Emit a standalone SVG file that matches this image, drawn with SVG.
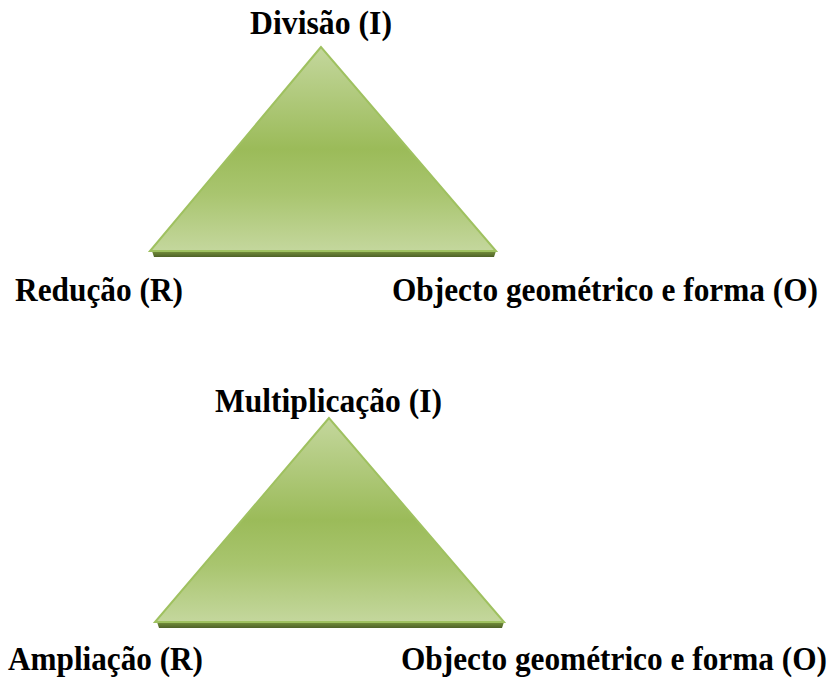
<svg xmlns="http://www.w3.org/2000/svg" width="833" height="679" viewBox="0 0 833 679" font-family="'Liberation Serif', 'DejaVu Serif', serif">
<defs>
<linearGradient id="fillG" x1="0" y1="0" x2="0" y2="1">
<stop offset="0" stop-color="#c4d79d"/>
<stop offset="0.5" stop-color="#9bbb59"/>
<stop offset="0.72" stop-color="#a9c56f"/>
<stop offset="1" stop-color="#c4d79d"/>
</linearGradient>
<linearGradient id="shadowG" x1="0" y1="0" x2="0" y2="1">
<stop offset="0" stop-color="#76923c"/>
<stop offset="1" stop-color="#4f6228"/>
</linearGradient>
<style>
.tri{fill:url(#fillG);stroke:#9fc160;stroke-width:2;stroke-linejoin:miter}
.sh{fill:url(#shadowG)}
.lbl{font-family:'Liberation Serif','DejaVu Serif',serif;font-weight:700;font-size:31px;fill:#000}
</style>
</defs>
<g id="triangle1">
<polygon class="sh" points="152,251 496,251 494,257 154,257"/>
<polygon class="tri" points="321,47 150,251 496,251"/>
</g>
<g id="triangle2">
<polygon class="sh" points="157,622 504,622 502,628 159,628"/>
<polygon class="tri" points="329,418 155,622 504,622"/>
</g>
<g id="connectors"></g>
<g id="label-divisao" transform="translate(250,34) scale(1,1.07)"><text class="lbl" x="0" y="0" textLength="142" lengthAdjust="spacingAndGlyphs">Divisão (I)</text></g>
<g id="label-reducao" transform="translate(15,301) scale(1,1.07)"><text class="lbl" x="0" y="0" textLength="168" lengthAdjust="spacingAndGlyphs">Redução (R)</text></g>
<g id="label-objecto1" transform="translate(392,301) scale(1,1.07)"><text class="lbl" x="0" y="0" textLength="426" lengthAdjust="spacingAndGlyphs">Objecto geométrico e forma (O)</text></g>
<g id="label-multiplicacao" transform="translate(215,412) scale(1,1.07)"><text class="lbl" x="0" y="0" textLength="227" lengthAdjust="spacingAndGlyphs">Multiplicação (I)</text></g>
<g id="label-ampliacao" transform="translate(8,670) scale(1,1.07)"><text class="lbl" x="0" y="0" textLength="195" lengthAdjust="spacingAndGlyphs">Ampliação (R)</text></g>
<g id="label-objecto2" transform="translate(401,670) scale(1,1.07)"><text class="lbl" x="0" y="0" textLength="426" lengthAdjust="spacingAndGlyphs">Objecto geométrico e forma (O)</text></g>
</svg>
